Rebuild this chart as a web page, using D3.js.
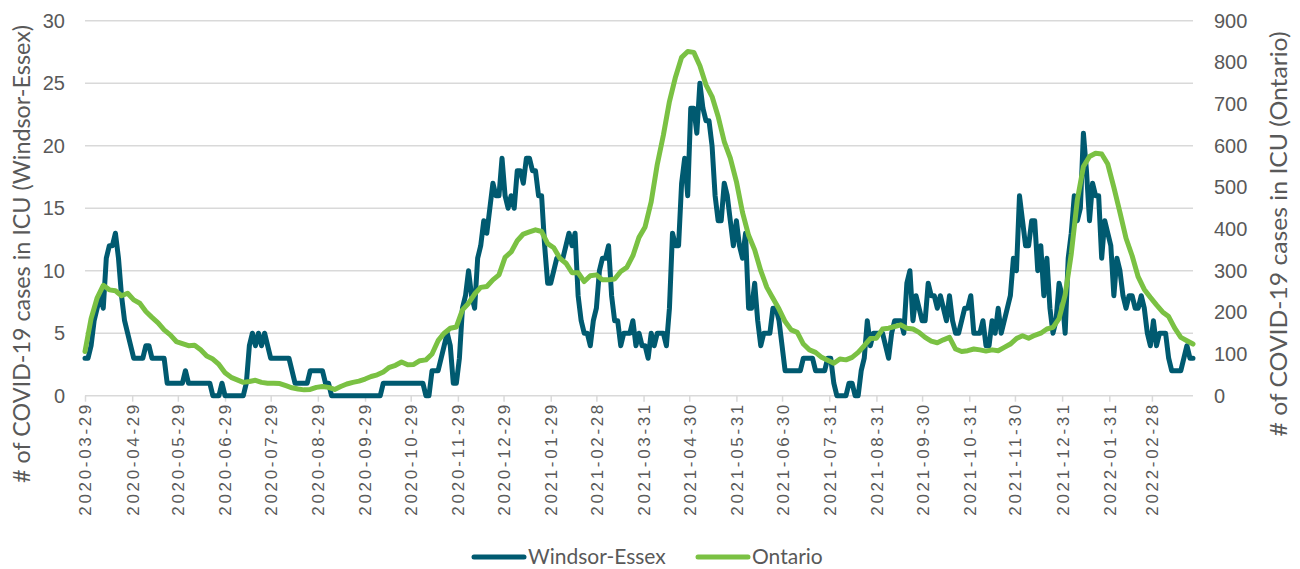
<!DOCTYPE html>
<html>
<head>
<meta charset="utf-8">
<script src="https://cdn.jsdelivr.net/npm/d3@7"></script>
<style>
  body { margin: 0; background: #fff; }
  svg { font-family: Lato, "Open Sans", sans-serif; }
</style>
</head>
<body>
<svg id="chart" width="1300" height="569"></svg>
<script>
// daily ICU counts (Windsor-Essex every 2 days, Ontario every 4 days)
const startDate = "2020-03-29";
const endDate = "2022-03-27";
const windsorStep = 2;
const ontarioStep = 4;

const windsorValues = [
  3, 3, 4, 6, 7, 8, 7, 11, 12, 12,
  13, 11, 8, 6, 5, 4, 3, 3, 3, 3,
  4, 4, 3, 3, 3, 3, 3, 1, 1, 1,
  1, 1, 1, 2, 1, 1, 1, 1, 1, 1,
  1, 1, 0, 0, 0, 1, 0, 0, 0, 0,
  0, 0, 0, 1, 4, 5, 4, 5, 4, 5,
  4, 3, 3, 3, 3, 3, 3, 3, 2, 1,
  1, 1, 1, 1, 2, 2, 2, 2, 2, 1,
  1, 0, 0, 0, 0, 0, 0, 0, 0, 0,
  0, 0, 0, 0, 0, 0, 0, 0, 1, 1,
  1, 1, 1, 1, 1, 1, 1, 1, 1, 1,
  1, 1, 0, 0, 2, 2, 2, 3, 4, 5,
  4, 1, 1, 3, 7, 8, 10, 8, 7, 11,
  12, 14, 13, 15, 17, 16, 16, 19, 16, 15,
  16, 15, 18, 18, 17, 19, 19, 18, 18, 16,
  16, 12, 9, 9, 10, 11, 11, 11, 12, 13,
  12, 13, 8, 6, 5, 5, 4, 6, 7, 10,
  11, 11, 12, 8, 6, 6, 4, 5, 5, 5,
  6, 4, 5, 4, 4, 3, 5, 4, 5, 5,
  5, 4, 7, 13, 12, 12, 17, 19, 16, 23,
  23, 21, 25, 23, 22, 22, 20, 16, 14, 14,
  17, 16, 14, 12, 14, 12, 11, 13, 7, 7,
  9, 6, 4, 5, 5, 5, 7, 7, 6, 4,
  2, 2, 2, 2, 2, 2, 3, 3, 3, 3,
  2, 2, 2, 2, 3, 3, 1, 0, 0, 0,
  0, 1, 1, 0, 0, 2, 3, 6, 4, 5,
  5, 5, 5, 4, 3, 5, 6, 6, 6, 5,
  9, 10, 6, 8, 7, 6, 6, 9, 8, 8,
  7, 8, 7, 6, 8, 6, 5, 5, 6, 7,
  7, 8, 5, 5, 5, 6, 4, 4, 6, 5,
  7, 5, 6, 7, 8, 11, 10, 16, 14, 12,
  12, 14, 14, 10, 12, 8, 11, 7, 5, 6,
  9, 8, 5, 11, 13, 16, 14, 15, 21, 18,
  14, 17, 16, 16, 11, 14, 13, 12, 8, 11,
  10, 8, 7, 8, 8, 7, 7, 8, 7, 5,
  4, 6, 4, 5, 5, 5, 3, 2, 2, 2,
  2, 3, 4, 3, 3
];

const ontarioValues = [
  106, 185, 235, 265, 254, 252, 240, 246, 230, 222,
  202, 188, 175, 158, 146, 130, 125, 120, 121, 110,
  95, 88, 75, 55, 44, 38, 32, 34, 37, 32,
  30, 30, 29, 24, 19, 16, 14, 15, 20, 22,
  20, 15, 22, 28, 32, 35, 40, 46, 50, 57,
  68, 73, 81, 74, 75, 84, 86, 100, 132, 150,
  162, 165, 206, 222, 244, 260, 262, 278, 290, 332,
  345, 372, 388, 393, 398, 394, 365, 355, 330, 318,
  295, 295, 274, 288, 290, 278, 278, 280, 298, 308,
  336, 380, 405, 465, 555, 625, 706, 765, 812, 826,
  824, 792, 746, 718, 670, 610, 570, 514, 440, 385,
  350, 300, 260, 234, 208, 178, 158, 152, 124, 110,
  104, 92, 85, 78, 88, 86, 92, 104, 120, 137,
  138, 160, 162, 166, 170, 162, 160, 152, 140, 131,
  127, 134, 140, 112, 106, 108, 112, 110, 107, 110,
  108, 116, 124, 137, 144, 138, 145, 150, 160, 164,
  185, 242, 340, 470, 550, 574, 582, 580, 556, 500,
  440, 378, 336, 285, 255, 236, 218, 201, 190, 162,
  140, 132, 124
];

const tickLabels = [
  "2020-03-29", "2020-04-29", "2020-05-29", "2020-06-29", "2020-07-29",
  "2020-08-29", "2020-09-29", "2020-10-29", "2020-11-29", "2020-12-29",
  "2021-01-29", "2021-02-28", "2021-03-31", "2021-04-30", "2021-05-31",
  "2021-06-30", "2021-07-31", "2021-08-31", "2021-09-30", "2021-10-31",
  "2021-11-30", "2021-12-31", "2022-01-31", "2022-02-28"
];
const leftTicks = [0, 5, 10, 15, 20, 25, 30];
const rightTicks = [0, 100, 200, 300, 400, 500, 600, 700, 800, 900];
const seriesNames = ["Windsor-Essex", "Ontario"];
const seriesColors = ["#005a70", "#7ac143"];

const svg = d3.select("#chart");
const margin = { top: 20.7, right: 107, bottom: 173.3, left: 85 };
const width = 1300;
const height = 569;

const parse = d3.utcParse("%Y-%m-%d");
const t0 = parse(startDate);

const weData = windsorValues.map((v, i) => ({ date: d3.utcDay.offset(t0, i * windsorStep), value: v }));
const onData = ontarioValues.map((v, i) => ({ date: d3.utcDay.offset(t0, i * ontarioStep), value: v }));

const x = d3.scaleUtc()
  .domain([t0, parse(endDate)])
  .range([margin.left, width - margin.right]);
const yLeft = d3.scaleLinear().domain([0, 30]).range([height - margin.bottom, margin.top]);
const yRight = d3.scaleLinear().domain([0, 900]).range([height - margin.bottom, margin.top]);

// gridlines
svg.append("g")
  .selectAll("line")
  .data(leftTicks)
  .join("line")
  .attr("x1", margin.left)
  .attr("x2", width - margin.right)
  .attr("y1", d => yLeft(d))
  .attr("y2", d => yLeft(d))
  .attr("stroke", "#d9d9d9")
  .attr("stroke-width", 1.5);

// x axis
const xAxis = d3.axisBottom(x)
  .tickValues(tickLabels.map(parse))
  .tickFormat(d3.utcFormat("%Y-%m-%d"))
  .tickSize(6)
  .tickSizeOuter(0);

const xg = svg.append("g")
  .attr("transform", `translate(0,${yLeft(0)})`)
  .call(xAxis);
xg.select(".domain").remove();
xg.selectAll(".tick line").attr("stroke", "#d9d9d9").attr("stroke-width", 1.5);
xg.selectAll(".tick text")
  .attr("transform", "rotate(-90)")
  .attr("text-anchor", "end")
  .attr("x", -9)
  .attr("y", 0)
  .attr("dy", "0.35em")
  .attr("fill", "#595959")
  .attr("font-size", 17)
  .attr("textLength", 111)
  .attr("lengthAdjust", "spacing");

// left axis
const lg = svg.append("g")
  .attr("transform", `translate(${margin.left},0)`)
  .call(d3.axisLeft(yLeft).tickValues(leftTicks).tickSize(0).tickPadding(20));
lg.select(".domain").remove();
lg.selectAll("text").attr("fill", "#595959").attr("font-size", 20);

// right axis
const rg = svg.append("g")
  .attr("transform", `translate(${width - margin.right},0)`)
  .call(d3.axisRight(yRight).tickValues(rightTicks).tickSize(0).tickPadding(21));
rg.select(".domain").remove();
rg.selectAll("text").attr("fill", "#595959").attr("font-size", 20);

// axis titles
svg.append("text")
  .attr("transform", `translate(22,254) rotate(-90)`)
  .attr("text-anchor", "middle")
  .attr("dy", "0.35em")
  .attr("fill", "#595959")
  .attr("font-size", 22.5)
  .attr("textLength", 458)
  .attr("lengthAdjust", "spacingAndGlyphs")
  .text("# of COVID-19 cases in ICU (Windsor-Essex)");

svg.append("text")
  .attr("transform", `translate(1279,234) rotate(-90)`)
  .attr("text-anchor", "middle")
  .attr("dy", "0.35em")
  .attr("fill", "#595959")
  .attr("font-size", 22.5)
  .attr("textLength", 405)
  .attr("lengthAdjust", "spacingAndGlyphs")
  .text("# of COVID-19 cases in ICU (Ontario)");

// lines
const weLine = d3.line().x(d => x(d.date)).y(d => yLeft(d.value));
const onLine = d3.line().x(d => x(d.date)).y(d => yRight(d.value));

svg.append("path")
  .datum(weData)
  .attr("fill", "none")
  .attr("stroke", seriesColors[0])
  .attr("stroke-width", 5)
  .attr("stroke-linejoin", "round")
  .attr("stroke-linecap", "round")
  .attr("d", weLine);

svg.append("path")
  .datum(onData)
  .attr("fill", "none")
  .attr("stroke", seriesColors[1])
  .attr("stroke-width", 5)
  .attr("stroke-linejoin", "round")
  .attr("stroke-linecap", "round")
  .attr("d", onLine);

// legend
const legendItems = [
  { name: seriesNames[0], color: seriesColors[0], x: 474 },
  { name: seriesNames[1], color: seriesColors[1], x: 698 }
];
const legend = svg.append("g").attr("transform", "translate(0,557)");
legend.selectAll("line")
  .data(legendItems)
  .join("line")
  .attr("x1", d => d.x)
  .attr("x2", d => d.x + 50)
  .attr("stroke", d => d.color)
  .attr("stroke-width", 5)
  .attr("stroke-linecap", "round");
legend.selectAll("text")
  .data(legendItems)
  .join("text")
  .attr("x", d => d.x + 54)
  .attr("dy", "0.35em")
  .attr("fill", "#595959")
  .attr("font-size", 21)
  .text(d => d.name);
</script>
</body>
</html>
